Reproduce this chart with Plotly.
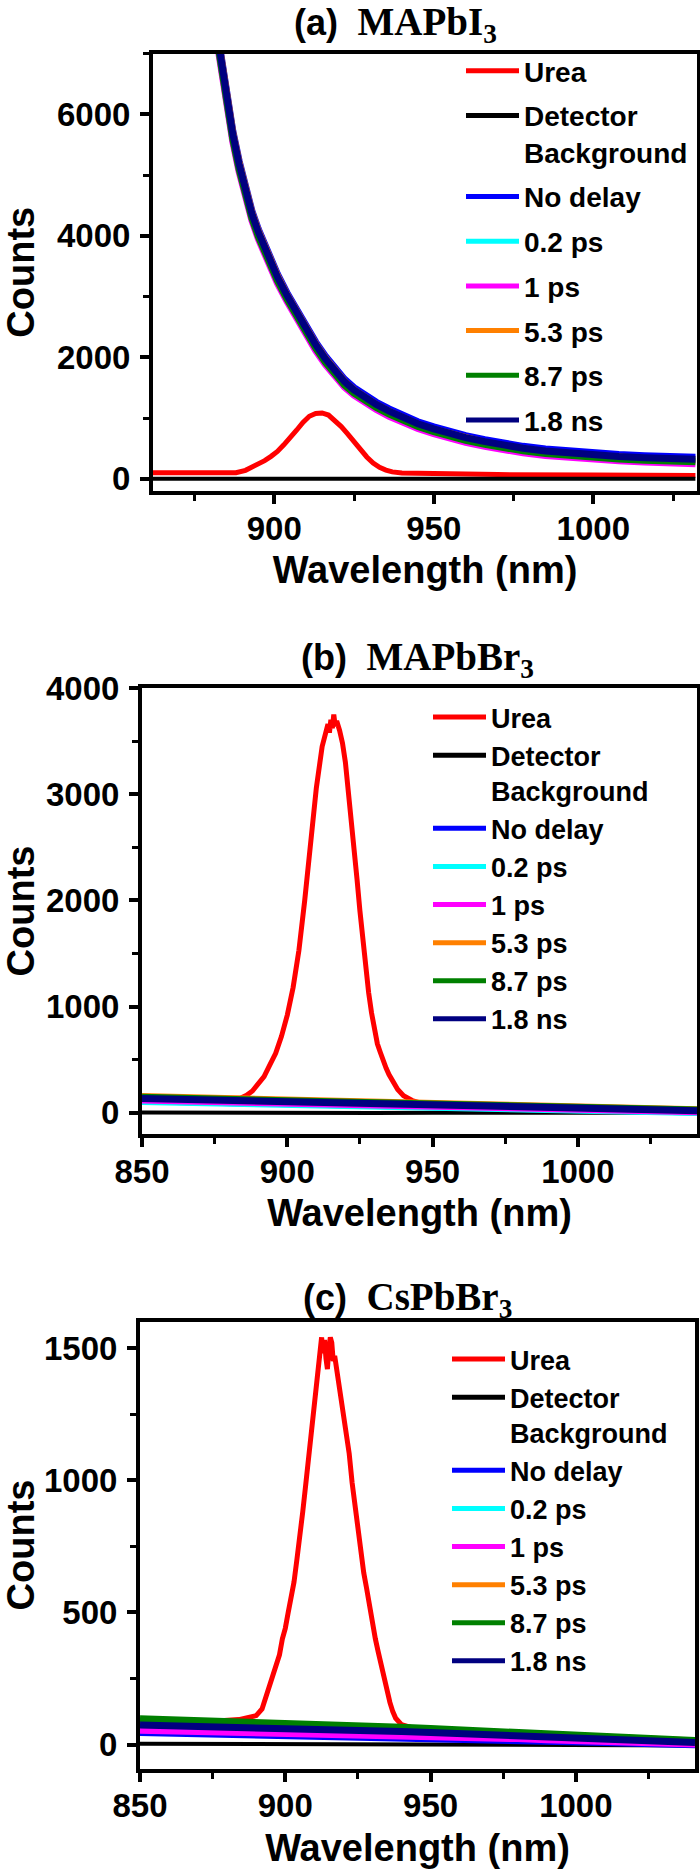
import plotly.graph_objects as go

W, H = 700, 1873
SANS = "Liberation Sans, Arial, sans-serif"

# ---------------- shared series info ----------------
names = ["Urea", "Detector<br>Background", "No delay", "0.2 ps", "1 ps", "5.3 ps", "8.7 ps", "1.8 ns"]
colors = ["#FF0000", "#000000", "#0000FF", "#00FFFF", "#FF00FF", "#FF8000", "#008000", "#000080"]

# ---------------- panel (a) MAPbI3 ----------------
a_urea_wl = [862, 870, 880, 888, 891, 893, 895, 897, 899, 901, 903, 905, 907, 909, 911, 913, 915, 917,
             919, 921, 923, 925, 927, 929, 931, 933, 935, 937, 940, 950, 970, 1000, 1032]
a_urea = [100, 95, 92, 100, 140, 190, 240, 300, 370, 450, 560, 670, 800, 930, 1030, 1075, 1085, 1050,
          960, 860, 740, 610, 480, 360, 260, 190, 145, 115, 95, 80, 70, 62, 55]
a_bg_wl = [862, 880, 900, 920, 940, 960, 980, 1000, 1020, 1032]
a_bg = [2, 0, 3, -2, 1, 0, 2, -1, 0, 1]
a_em_wl = [881, 883, 885, 887, 889, 891, 893, 895, 898, 901, 904, 907, 910, 913, 916, 919, 922, 925,
           928, 932, 936, 940, 945, 950, 955, 960, 966, 972, 978, 985, 992, 1000, 1008, 1016, 1024, 1032]
a_nodelay = [7750, 7050, 6330, 5730, 5230, 4790, 4410, 4110, 3710, 3370, 3060, 2770, 2500, 2250, 2020, 1810, 1640, 1500,
             1390, 1260, 1150, 1050, 940, 855, 780, 710, 645, 585, 535, 490, 455, 425, 400, 380, 365, 355]
a_02ps = [7650, 6950, 6240, 5640, 5140, 4700, 4330, 4030, 3630, 3290, 2990, 2700, 2430, 2180, 1950, 1745, 1575, 1440,
          1330, 1200, 1090, 990, 885, 800, 725, 655, 590, 530, 482, 438, 402, 372, 348, 328, 313, 302]
a_1ps = [7550, 6850, 6150, 5550, 5050, 4620, 4250, 3950, 3550, 3220, 2920, 2630, 2360, 2110, 1885, 1680, 1510, 1375,
         1270, 1140, 1030, 935, 828, 745, 670, 600, 535, 477, 428, 385, 350, 320, 296, 276, 261, 250]
a_53ps = [7720, 7020, 6300, 5700, 5200, 4760, 4380, 4080, 3680, 3340, 3030, 2740, 2470, 2220, 1990, 1780, 1605, 1465,
          1355, 1222, 1110, 1008, 898, 812, 737, 666, 600, 540, 490, 445, 409, 379, 354, 334, 319, 309]
a_87ps = [7600, 6900, 6190, 5590, 5090, 4660, 4290, 3990, 3590, 3260, 2960, 2670, 2400, 2150, 1920, 1715, 1545, 1410,
          1305, 1175, 1065, 968, 860, 777, 702, 632, 568, 508, 460, 417, 381, 351, 327, 307, 292, 281]
a_18ns = [7700, 7000, 6280, 5680, 5180, 4740, 4365, 4065, 3665, 3325, 3020, 2730, 2460, 2210, 1980, 1772, 1602, 1465,
          1355, 1225, 1115, 1015, 907, 822, 747, 677, 612, 553, 504, 460, 424, 394, 369, 349, 334, 323]

# ---------------- panel (b) MAPbBr3 ----------------
b_urea_wl = [850, 870, 884, 886, 888, 890, 892, 894, 896, 898, 900, 902, 904, 906, 908, 910, 912, 913, 914,
             914.5, 915, 915.5, 916, 916.5, 917, 918, 919, 920, 921, 922, 923, 924, 925, 926, 927, 928, 929,
             930, 931, 932, 933, 934, 935, 936, 938, 940, 943, 946, 960, 980, 1000, 1041]
b_urea = [135, 130, 140, 165, 205, 270, 340, 450, 560, 720, 920, 1180, 1530, 2000, 2530, 3060, 3450, 3560, 3660,
          3580, 3700, 3620, 3750, 3640, 3690, 3600, 3480, 3300, 3050, 2800, 2500, 2200, 1900, 1620, 1360, 1130, 940,
          780, 650, 570, 480, 420, 360, 310, 220, 160, 115, 90, 60, 40, 30, 20]
b_bg_wl = [850, 870, 890, 910, 930, 950, 970, 990, 1010, 1030, 1041]
b_bg = [2, -1, 1, 0, -2, 1, 0, -1, 1, 0, -1]
b_em_wl = [850, 860, 870, 880, 890, 900, 910, 920, 930, 940, 950, 960, 970, 980, 990, 1000, 1010, 1020, 1030, 1041]
b_nodelay = [112, 106, 101, 96, 91, 86, 80, 74, 68, 62, 55, 48, 41, 35, 29, 24, 19, 15, 11, 7]
b_02ps = [105, 100, 95, 90, 85, 80, 74, 68, 62, 56, 50, 43, 36, 30, 24, 19, 14, 10, 6, 3]
b_1ps = [120, 114, 108, 102, 97, 91, 85, 79, 73, 67, 60, 53, 45, 39, 33, 28, 23, 18, 14, 10]
b_53ps = [152, 145, 138, 131, 124, 117, 110, 103, 96, 89, 81, 73, 65, 58, 52, 47, 42, 37, 33, 29]
b_87ps = [145, 138, 132, 126, 119, 112, 105, 98, 91, 84, 77, 69, 61, 54, 48, 43, 38, 33, 29, 25]
b_18ns = [135, 129, 123, 117, 111, 105, 98, 91, 85, 79, 72, 64, 56, 49, 43, 38, 33, 28, 24, 20]

# ---------------- panel (c) CsPbBr3 ----------------
c_urea_wl = [850, 870, 884, 886, 888, 890, 892, 893, 894, 896, 898, 899, 900, 901, 902, 903, 904, 905, 906, 907,
             908, 909, 910, 911, 912, 912.5, 913, 913.5, 914, 914.5, 915, 915.5, 916, 916.5, 917, 918, 919, 920,
             921, 922, 923, 924, 925, 926, 927, 928, 929, 930, 931, 932, 933, 934, 935, 936, 937, 938, 940, 945,
             960, 980, 1000, 1041]
c_urea = [80, 85, 95, 101, 105, 110, 135, 170, 200, 260, 340, 400, 440, 500, 550, 615, 700, 780, 880, 980,
          1090, 1190, 1300, 1420, 1490, 1540, 1480, 1530, 1460, 1420, 1500, 1540, 1520, 1450, 1470, 1400, 1320, 1250,
          1180, 1100, 990, 900, 820, 730, 650, 590, 520, 460, 400, 350, 300, 250, 200, 160, 125, 100, 76, 60,
          45, 30, 20, 10]
c_bg_wl = [850, 870, 890, 910, 930, 950, 970, 990, 1010, 1030, 1041]
c_bg = [4, 3, 2, 3, 1, 0, -1, -2, -3, -2, -3]
c_em_wl = [850, 860, 870, 880, 890, 900, 910, 920, 930, 940, 950, 960, 970, 980, 990, 1000, 1010, 1020, 1030, 1041]
c_nodelay = [46, 44, 42, 40, 38, 36, 34, 32, 30, 28, 26, 23, 20, 17, 14, 11, 8, 5, 2, 0]
c_02ps = [84, 81, 78, 75, 72, 69, 66, 63, 59, 55, 51, 47, 42, 37, 32, 27, 22, 18, 15, 12]
c_1ps = [55, 53, 51, 49, 47, 45, 43, 41, 38, 35, 32, 29, 26, 23, 19, 15, 11, 8, 5, 3]
c_53ps = [90, 87, 84, 81, 78, 75, 72, 69, 65, 61, 57, 52, 47, 42, 37, 32, 27, 22, 18, 14]
c_87ps = [98, 95, 92, 88, 85, 82, 78, 74, 70, 66, 61, 56, 51, 46, 40, 34, 28, 24, 20, 16]
c_18ns = [74, 72, 70, 67, 65, 62, 59, 56, 53, 50, 46, 42, 38, 34, 30, 26, 22, 17, 12, 8]

panels = [
    dict(tag="a", title="(a)", compound="MAPbI<sub>3</sub>",
         urea=(a_urea_wl, a_urea), bg=(a_bg_wl, a_bg),
         em=(a_em_wl, [a_nodelay, a_02ps, a_1ps, a_53ps, a_87ps, a_18ns]),
         xrange=[862, 1032.5], yrange=[-200, 7000], ydtick=2000,
         px=(153, 697), py=(53.5, 491), title_xy=(395, 25),
         leg_xy=(461, 46), leggap=5.3, legfont=28),
    dict(tag="b", title="(b)", compound="MAPbBr<sub>3</sub>",
         urea=(b_urea_wl, b_urea), bg=(b_bg_wl, b_bg),
         em=(b_em_wl, [b_nodelay, b_02ps, b_1ps, b_53ps, b_87ps, b_18ns]),
         xrange=[850, 1041], yrange=[-200, 4000], ydtick=1000,
         px=(142, 697), py=(688, 1134), title_xy=(417, 659),
         leg_xy=(428, 693), leggap=0, legfont=27),
    dict(tag="c", title="(c)", compound="CsPbBr<sub>3</sub>",
         urea=(c_urea_wl, c_urea), bg=(c_bg_wl, c_bg),
         em=(c_em_wl, [c_nodelay, c_02ps, c_1ps, c_53ps, c_87ps, c_18ns]),
         xrange=[850, 1041], yrange=[-90, 1600], ydtick=500,
         px=(140, 695), py=(1321.5, 1768.5), title_xy=(407, 1299),
         leg_xy=(447, 1335), leggap=0, legfont=27),
]

fig = go.Figure()
layout = dict(template="none", width=W, height=H, margin=dict(l=0, r=0, t=0, b=0, pad=0),
              paper_bgcolor="white", plot_bgcolor="white", showlegend=True,
              annotations=[])

for i, p in enumerate(panels):
    n = "" if i == 0 else str(i + 1)
    xa, ya = "x" + n, "y" + n
    leg = "legend" + n
    series = [p["urea"], p["bg"]] + [(p["em"][0], v) for v in p["em"][1]]
    widths = [5, 4, 7, 7, 7, 7, 7, 7]
    for k, (xs, ys) in enumerate(series):
        tr = dict(x=xs, y=ys, mode="lines", name=names[k],
                  line=dict(color=colors[k], width=widths[k]),
                  xaxis=xa, yaxis=ya, legend=leg)
        if p["leggap"] > 0:
            tr["legendgroup"] = p["tag"] + str(k)
        fig.add_trace(go.Scatter(**tr))

    x0, x1 = p["px"]
    y0, y1 = p["py"]
    axis_common = dict(showline=True, linewidth=4, linecolor="black", mirror=True, automargin=False,
                       showgrid=False, zeroline=False, ticks="outside", ticklen=9,
                       tickwidth=4, tickcolor="black",
                       tickfont=dict(family=SANS, size=33, color="black", weight="bold"))
    layout["xaxis" + n] = dict(axis_common, domain=[x0 / W, x1 / W], range=p["xrange"],
                               anchor=ya, dtick=50, tick0=0, ticklabelstandoff=-4,
                               minor=dict(dtick=25, ticks="outside", ticklen=6, tickwidth=3,
                                          tickcolor="black", showgrid=False),
                               title=dict(text="Wavelength (nm)", standoff=12,
                                          font=dict(family=SANS, size=38, color="black", weight="bold")))
    layout["yaxis" + n] = dict(axis_common, domain=[1 - y1 / H, 1 - y0 / H], range=p["yrange"],
                               anchor=xa, dtick=p["ydtick"], tick0=0, ticklabelstandoff=3,
                               minor=dict(dtick=p["ydtick"] / 2, ticks="outside", ticklen=6, tickwidth=3,
                                          tickcolor="black", showgrid=False),
                               title=dict(text="Counts", standoff=12,
                                          font=dict(family=SANS, size=38, color="black", weight="bold")))
    lx, ly = p["leg_xy"]
    layout[leg] = dict(x=lx / W, y=1 - ly / H, xanchor="left", yanchor="top",
                       bgcolor="rgba(0,0,0,0)", borderwidth=0, valign="top",
                       tracegroupgap=p["leggap"], itemwidth=53, itemsizing="constant",
                       font=dict(family=SANS, size=p["legfont"], color="black", weight="bold"))
    tx, ty = p["title_xy"]
    layout["annotations"].append(dict(
        xref="paper", yref="paper", x=tx / W, y=1 - ty / H, xanchor="center", yanchor="middle",
        showarrow=False,
        text=("<span style=\"font-family:Liberation Sans;font-size:36px\">" + p["title"] +
              "</span>&nbsp;&nbsp;" + p["compound"]),
        font=dict(family="Liberation Serif, Times New Roman, serif", size=39, color="black", weight="bold")))

fig.update_layout(**layout)
fig.write_html("out.html", config={"displayModeBar": False},
               post_script="document.body.style.margin='0';document.body.style.overflow='hidden';")
